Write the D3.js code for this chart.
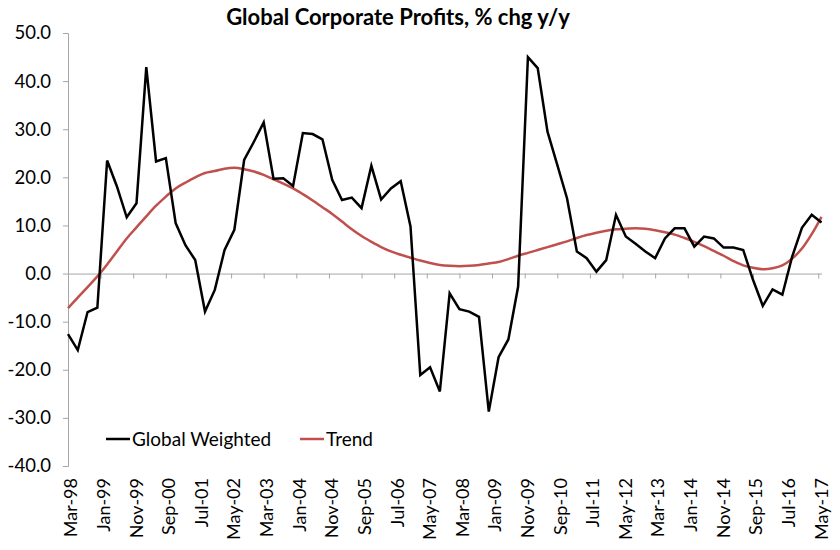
<!DOCTYPE html>
<html><head><meta charset="utf-8">
<script src="https://cdn.jsdelivr.net/npm/d3@7/dist/d3.min.js"></script>
<style>body{margin:0;background:#fff}svg{display:block}text{font-family:Lato,"Noto Sans",sans-serif}</style>
</head><body><svg id="c" width="840" height="550"></svg>
<script>
// Quarterly observations, Mar-98 .. Jun-17 (month offset = 3 * index)
const globalWeighted = [-12.6,-15.9,-8.0,-7.1,23.5,18.1,11.7,14.6,42.9,23.3,24.0,10.5,5.9,2.8,
 -7.9,-3.4,4.9,9.1,23.6,27.4,31.4,19.7,19.8,18.2,29.2,29.0,27.9,
 19.5,15.3,15.8,13.6,22.4,15.4,17.7,19.2,9.8,
 -21.1,-19.5,-24.5,-4.1,-7.4,-7.9,-9.0,-28.7,-17.4,-13.7,-2.7,
 45.0,42.7,29.5,22.6,15.6,4.6,3.2,
 0.4,2.8,12.2,7.7,6.2,4.6,3.2,
 7.3,9.4,9.4,5.6,7.7,7.3,5.4,5.4,4.9,
 -1.3,-6.7,-3.3,-4.4,3.5,9.5,12.2,10.6];
const trend = [-7.2,-5.0,-2.8,-0.6,1.9,4.6,7.3,9.6,11.9,14.1,16.0,17.7,18.9,20.0,
 20.9,21.3,21.8,22.0,21.7,21.2,20.5,19.6,18.7,17.7,16.5,15.2,13.8,
 12.4,10.8,9.2,7.8,6.6,5.5,4.6,3.9,3.3,
 2.7,2.2,1.8,1.6,1.5,1.6,1.8,2.1,2.4,3.0,3.7,
 4.3,4.9,5.5,6.1,6.7,7.4,8.0,
 8.5,8.9,9.2,9.3,9.4,9.3,9.0,
 8.6,8.1,7.4,6.6,5.7,4.7,3.7,2.6,1.7,
 1.2,0.9,1.1,1.7,3.1,5.2,8.2,11.8];
const tickLabels = ["Mar-98","Jan-99","Nov-99","Sep-00","Jul-01","May-02","Mar-03","Jan-04","Nov-04","Sep-05","Jul-06","May-07","Mar-08","Jan-09","Nov-09","Sep-10","Jul-11","May-12","Mar-13","Jan-14","Nov-14","Sep-15","Jul-16","May-17"];
const tickMonths = tickLabels.map((d,i)=>i*10);
const yTicks = [50,40,30,20,10,0,-10,-20,-30,-40];
const title = "Global Corporate Profits, % chg y/y";
const seriesNames = ["Global Weighted","Trend"];

const svg = d3.select("#c");
const x = d3.scaleLinear().domain([0, 3*(globalWeighted.length-1)]).range([68, 821.5]);
const y = d3.scaleLinear().domain([-40, 50]).range([466, 33]);
const axisColor = "#a6a6a6";
const fs = "18px";

// y axis
const ya = svg.append("g").attr("transform","translate(68,0)")
  .call(d3.axisLeft(y).tickValues(yTicks).tickFormat(d3.format(".1f")).tickSize(5).tickPadding(12));
ya.select(".domain").attr("stroke",axisColor);
ya.selectAll(".tick line").attr("stroke",axisColor);
ya.selectAll("text").attr("font-size","18.5px").attr("fill","#000").attr("font-family","Lato").text(d=>d3.format(".1f")(d).replace("−","-"));

// x axis at zero
const xa = svg.append("g").attr("transform",`translate(0,${y(0)})`)
  .call(d3.axisBottom(x).tickValues(tickMonths).tickFormat(()=> "").tickSize(5).tickSizeOuter(0));
xa.select(".domain").attr("stroke",axisColor);
xa.selectAll(".tick line").attr("stroke",axisColor);

// x labels at bottom
svg.append("g").selectAll("text").data(tickMonths).join("text")
  .attr("transform",d=>`translate(${x(d)+3},478) rotate(-90)`)
  .attr("text-anchor","end").attr("dy","0.35em")
  .attr("font-size",fs).attr("fill","#000")
  .text((d,i)=>tickLabels[i]);

// lines
const line = arr => d3.line().x((d,i)=>x(3*i)).y(d=>y(d))(arr);
const sline = arr => d3.line().curve(d3.curveCatmullRom).x((d,i)=>x(3*i)).y(d=>y(d))(arr);
svg.append("path").attr("d",sline(trend)).attr("fill","none").attr("stroke","#c0504d").attr("stroke-width",2.5);
svg.append("path").attr("d",line(globalWeighted)).attr("fill","none").attr("stroke","#000").attr("stroke-width",2.5).attr("stroke-linejoin","miter");

// title
svg.append("text").attr("x",398).attr("y",25).attr("text-anchor","middle")
  .attr("font-size","22px").attr("font-weight","bold").attr("fill","#000").text(title);

// legend
const leg = [{n:seriesNames[0],c:"#000",x:106},{n:seriesNames[1],c:"#c0504d",x:300}];
leg.forEach(l=>{
  svg.append("line").attr("x1",l.x).attr("x2",l.x+24).attr("y1",439).attr("y2",439).attr("stroke",l.c).attr("stroke-width",2.5);
  svg.append("text").attr("x",l.x+26).attr("y",439).attr("dy","0.35em").attr("font-size","19px").attr("fill","#000").text(l.n);
});
</script></body></html>
